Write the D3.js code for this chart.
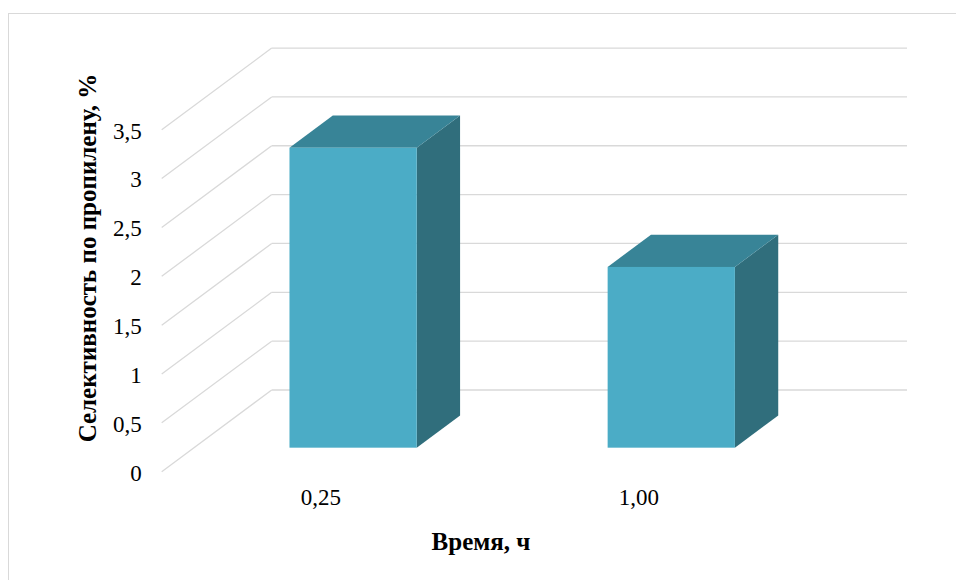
<!DOCTYPE html>
<html>
<head>
<meta charset="utf-8">
<script src="https://cdn.jsdelivr.net/npm/d3@7"></script>
<style>
  html, body { margin: 0; padding: 0; background: #fff; }
  svg { display: block; }
  text { font-family: "Liberation Serif", "Times New Roman", serif; fill: #000; }
</style>
</head>
<body>
<svg id="chart" width="956" height="580"></svg>
<script>
// Selectivity to propylene by reaction time
const categories = ["0,25", "1,00"];
const selectivity = [3.07, 1.85];
const yTicks = [0, 0.5, 1, 1.5, 2, 2.5, 3, 3.5];
const xTitle = "Время, ч";
const yTitle = "Селективность по пропилену, %";

const W = 956, H = 580;
const serif = "'Liberation Serif', 'Times New Roman', serif";
const svg = d3.select("#chart");

// frame around the chart area
svg.append("rect")
  .attr("x", 8.5).attr("y", 13.5)
  .attr("width", W).attr("height", H)
  .attr("fill", "none").attr("stroke", "#d9d9d9").attr("stroke-width", 1);

// oblique 3D projection: floor front edge and the depth vector
const frontLeft = 161.7, frontRight = 798;
const depthX = 110, depthY = -81.7;
const barDepth0 = 0.294, barDepth1 = 0.688;

const y = d3.scaleLinear().domain([0, 3.5]).range([471.7, 471.7 - 3.5 * 97.7]);
const x = d3.scaleBand().domain(categories)
  .range([frontLeft, frontRight]).paddingInner(0.6).paddingOuter(0.3);

const grid = svg.append("g").attr("stroke", "#d9d9d9").attr("stroke-width", 1.3).attr("fill", "none");

// side wall gridlines (front edge to back wall)
grid.selectAll("line.side").data(yTicks).join("line")
  .attr("class", "side")
  .attr("x1", frontLeft).attr("y1", d => y(d))
  .attr("x2", frontLeft + depthX).attr("y2", d => y(d) + depthY);

// back wall gridlines
grid.selectAll("line.back").data(yTicks).join("line")
  .attr("class", "back")
  .attr("x1", frontLeft + depthX).attr("y1", d => y(d) + depthY)
  .attr("x2", 907).attr("y2", d => y(d) + depthY);

// value axis labels
const fmt = d3.formatLocale({ decimal: ",", thousands: " ", grouping: [3], currency: ["", ""] }).format("~g");
const yAxis = svg.append("g")
  .attr("transform", `translate(${frontLeft - 12},1)`)
  .call(d3.axisLeft(y).tickValues(yTicks).tickFormat(fmt).tickSize(0).tickPadding(8));
yAxis.attr("font-family", serif).attr("font-size", 23);
yAxis.select(".domain").remove();
yAxis.selectAll("text").attr("fill", "#000");

// bars as three faces each
const data = categories.map((c, i) => ({ c, v: selectivity[i] }));
const bars = svg.append("g");
const fx = d => x(d.c) + barDepth0 * depthX;
const fy0 = y(0) + barDepth0 * depthY;
const bw = x.bandwidth();
const ddx = (barDepth1 - barDepth0) * depthX;
const ddy = (barDepth1 - barDepth0) * depthY;

bars.selectAll("path.side").data(data).join("path")
  .attr("class", "side")
  .attr("fill", "#306e7c")
  .attr("d", d => {
    const x0 = fx(d) + bw, yt = y(d.v) + barDepth0 * depthY;
    return `M${x0},${yt}L${x0 + ddx},${yt + ddy}L${x0 + ddx},${fy0 + ddy}L${x0},${fy0}Z`;
  });

bars.selectAll("path.top").data(data).join("path")
  .attr("class", "top")
  .attr("fill", "#388497")
  .attr("d", d => {
    const x0 = fx(d), yt = y(d.v) + barDepth0 * depthY;
    return `M${x0},${yt}L${x0 + bw},${yt}L${x0 + bw + ddx},${yt + ddy}L${x0 + ddx},${yt + ddy}Z`;
  });

bars.selectAll("rect.front").data(data).join("rect")
  .attr("class", "front")
  .attr("fill", "#4bacc6")
  .attr("x", d => fx(d))
  .attr("y", d => y(d.v) + barDepth0 * depthY)
  .attr("width", bw)
  .attr("height", d => y(0) - y(d.v));

// category labels
const xAxis = svg.append("g")
  .attr("transform", `translate(0,${y(0) + 17})`)
  .call(d3.axisBottom(x).tickSize(0).tickPadding(0));
xAxis.attr("font-family", serif).attr("font-size", 23);
xAxis.select(".domain").remove();
xAxis.selectAll("text").attr("fill", "#000");

// axis titles
svg.append("text")
  .attr("x", 481).attr("y", 550)
  .attr("text-anchor", "middle")
  .attr("font-family", serif)
  .attr("font-size", 25).attr("font-weight", "bold")
  .text(xTitle);

svg.append("text")
  .attr("transform", "translate(96,258) rotate(-90)")
  .attr("text-anchor", "middle")
  .attr("font-family", serif)
  .attr("font-size", 25).attr("font-weight", "bold")
  .text(yTitle);
</script>
</body>
</html>
